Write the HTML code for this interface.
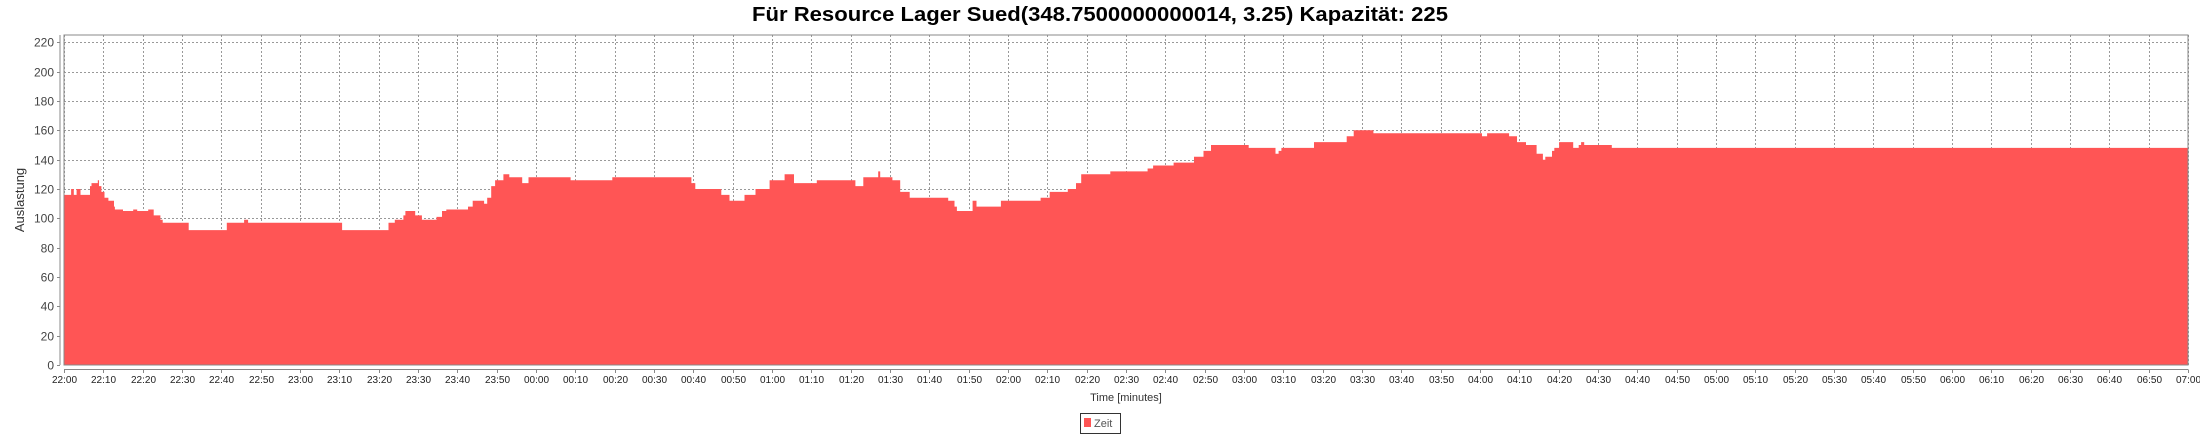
<!DOCTYPE html>
<html><head><meta charset="utf-8"><style>
html,body{margin:0;padding:0;background:#fff;}
svg{display:block;font-family:"Liberation Sans",sans-serif;}
</style></head><body>
<svg id="chart" width="2200" height="435" viewBox="0 0 2200 435">
<text x="1100" y="21" text-anchor="middle" font-size="20" font-weight="bold" textLength="696" lengthAdjust="spacingAndGlyphs">Für Resource Lager Sued(348.7500000000014, 3.25) Kapazität: 225</text>
<rect x="64" y="35" width="2124" height="330" fill="#fff"/>
<g id="grid"></g>
<path id="area" fill="#ff5555"/>
<rect x="64" y="35" width="2124" height="330" fill="none" stroke="#888" stroke-width="1"/>
<line x1="60" y1="35" x2="60" y2="365" stroke="#888"/>
<line x1="64" y1="369.5" x2="2188" y2="369.5" stroke="#888"/>
<g id="yticks"></g>
<g id="xticks"></g>
<text transform="translate(24,200) rotate(-90)" text-anchor="middle" font-size="13" fill="#333">Auslastung</text>
<text x="1126" y="401" text-anchor="middle" font-size="11" fill="#333">Time [minutes]</text>
<g>
<rect x="1080.5" y="413.5" width="40" height="20" fill="#fff" stroke="#333"/>
<rect x="1084" y="418" width="7" height="9" fill="#ff5555"/>
<text x="1094" y="427" font-size="11" fill="#555">Zeit</text>
</g>
</svg>
<script>
const stepStarts = [0,1.8,2.5,3.2,4.2,6.6,7,8.6,8.9,9.5,10.3,11.3,12.7,12.95,15,17.6,18.6,21.4,22.8,24.5,25.1,31.7,41.4,45.8,46.8,70.7,82.5,84.1,86.3,86.8,89.3,91,94.7,96.1,97.2,102.7,103.9,106.8,107.6,108.6,109.6,111.7,113.2,116.5,118.1,128.8,139.4,159.5,160.5,167.1,169.2,173,175.8,179.4,183.2,185.6,191.4,201.2,203.2,207,207.5,210.6,212.6,215,224.8,226.4,227,231,232,238.2,248.3,250.6,255.2,257.3,258.6,266,275.5,276.9,282.1,287.3,289.7,291.6,301.2,308,308.8,309.5,317.8,326.1,327.9,332.9,360.5,361.8,367.4,369.4,371.7,374.4,376,376.6,378.3,378.9,380.1,383.7,385.1,385.7,386.5,393.5];
const stepValues = [116,120,116,120,116,122,124,126,122,118,114,112,108,106,105,106,105,106,102,99,97,92,97,99,97,92,97,99,102,105,102,99,101,105,106,108,112,110,114,122,126,130,128,124,128,126,128,124,120,116,112,116,120,126,130,124,126,122,128,132,128,126,118,114,112,108,105,112,108,112,114,118,120,124,130,132,134,136,138,142,146,150,148,144,146,148,152,156,160,158,156,158,156,152,150,144,140,142,146,148,152,148,150,152,150,148];
const xTickLabels = ["22:00","22:10","22:20","22:30","22:40","22:50","23:00","23:10","23:20","23:30","23:40","23:50","00:00","00:10","00:20","00:30","00:40","00:50","01:00","01:10","01:20","01:30","01:40","01:50","02:00","02:10","02:20","02:30","02:40","02:50","03:00","03:10","03:20","03:30","03:40","03:50","04:00","04:10","04:20","04:30","04:40","04:50","05:00","05:10","05:20","05:30","05:40","05:50","06:00","06:10","06:20","06:30","06:40","06:50","07:00"];
const yTickValues = [0,20,40,60,80,100,120,140,160,180,200,220];
const xMaxMinutes = 540;
const yMax = 225;

const NS = "http://www.w3.org/2000/svg";
const L = 64, R = 2188, T = 35, B = 365;
function xScale(m){ return L + m * (R - L) / xMaxMinutes; }
function yScale(v){ return B - v * (B - T) / yMax; }
function mk(tag, attrs, parent){ const e = document.createElementNS(NS, tag); for (const k in attrs) e.setAttribute(k, attrs[k]); parent.appendChild(e); return e; }

const grid = document.getElementById('grid');
const yt = document.getElementById('yticks');
const xt = document.getElementById('xticks');

yTickValues.forEach(v => {
  const y = Math.round(yScale(v)) + 0.5;
  if (v > 0) {
    const g = mk('line', {x1: L, x2: R, y1: y, y2: y, stroke: '#999', 'stroke-dasharray': '2,2'}, grid);
    
    
  }
  const t = mk('line', {x1: 57, x2: 60, y1: y, y2: y, stroke: '#888'}, yt);
  
  
  const lb = mk('text', {x: 54, y: y + 4, 'text-anchor': 'end', 'font-size': '12', fill: '#444'}, yt);
  lb.textContent = v;
  
  
});

xTickLabels.forEach((lab, i) => {
  const x = Math.round(xScale(i * 10)) + 0.5;
  const g = mk('line', {x1: x, x2: x, y1: T, y2: B, stroke: '#999', 'stroke-dasharray': '2,2'}, grid);
  
  
  const t = mk('line', {x1: x, x2: x, y1: 369.5, y2: 373, stroke: '#888'}, xt);
  
  
  const lb = mk('text', {x: x, y: 383, 'text-anchor': 'middle', 'font-size': '10', fill: '#222'}, xt);
  lb.textContent = lab;
  
  
});

let d = 'M' + xScale(0) + ',' + yScale(0);
stepStarts.forEach((s, i) => {
  const end = i + 1 < stepStarts.length ? stepStarts[i + 1] : xMaxMinutes;
  d += ' L' + xScale(s).toFixed(1) + ',' + yScale(stepValues[i]).toFixed(1);
  d += ' L' + xScale(end).toFixed(1) + ',' + yScale(stepValues[i]).toFixed(1);
});
d += ' L' + xScale(xMaxMinutes) + ',' + yScale(0) + ' Z';
document.getElementById('area').setAttribute('d', d);
</script>
</body></html>
